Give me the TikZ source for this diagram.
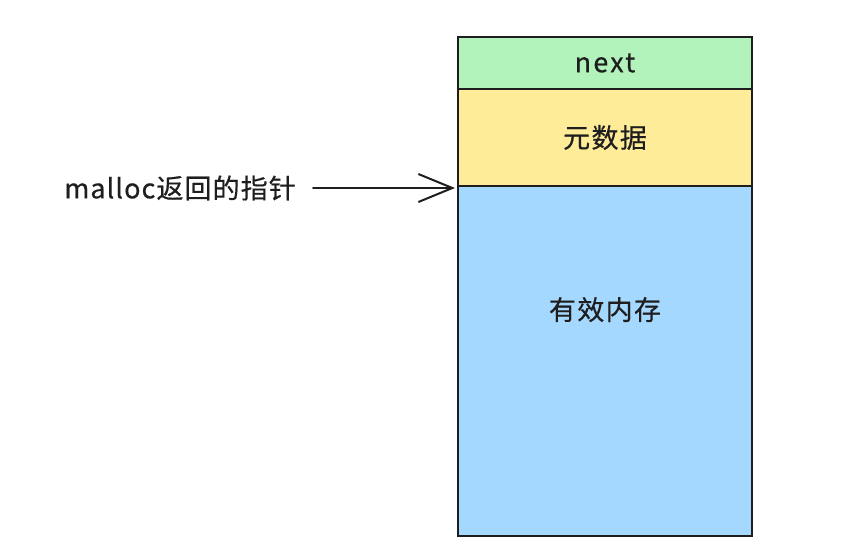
\documentclass[tikz,border=0pt]{standalone}
\usepackage{fontspec}
\setmainfont{Noto Sans CJK SC}
\usetikzlibrary{arrows.meta,calc}
\definecolor{strokec}{HTML}{1E1E1E}
\definecolor{greenf}{HTML}{B2F2BB}
\definecolor{yellowf}{HTML}{FFEC99}
\definecolor{bluef}{HTML}{A5D8FF}
\tikzset{
  cell/.style={draw=strokec, line width=2pt, inner sep=0pt, minimum width=294pt, anchor=north west},
  lbl/.style={text=strokec, font=\fontsize{27}{31}\selectfont\addfontfeatures{FakeBold=0.5}, inner sep=0pt},
}
\begin{document}
\begin{tikzpicture}[x=1pt,y=-1pt]
\useasboundingbox (0,0) rectangle (859,552);
\node[cell, fill=greenf, minimum height=52pt] (nx) at (457,36) {};
\node[cell, fill=yellowf, minimum height=97pt] (meta) at (457,88) {};
\node[cell, fill=bluef, minimum height=350pt] (mem) at (457,185) {};
\node[lbl] at (nx.center) {\addfontfeatures{LetterSpace=8}next};
\node[lbl] at (meta.center) {\addfontfeatures{LetterSpace=5}元数据};
\node[lbl] at ($(mem.north)!0.354!(mem.south)$) {\addfontfeatures{LetterSpace=5}有效内存};
\node[lbl, anchor=east] (ptr) at (296,188) {\addfontfeatures{LetterSpace=4}malloc返回的指针};
\coordinate (tip) at (455,188);
\draw[strokec, line width=2pt, line cap=round, -{Straight Barb[length=34pt,width=28pt,line width=2pt]}] ($(ptr.east)+(17,0)$) -- (tip);
\end{tikzpicture}
\end{document}
